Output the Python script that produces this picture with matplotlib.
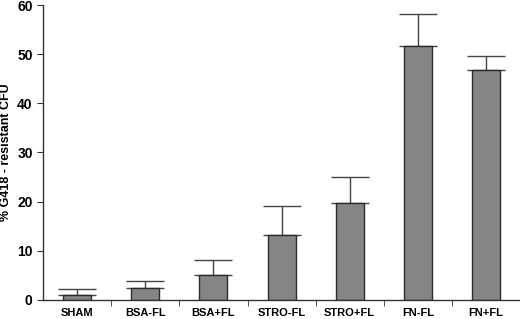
import matplotlib
matplotlib.use("Agg")
import matplotlib.pyplot as plt
import numpy as np

# groups and values
groups = ["SHAM", "BSA-FL", "BSA+FL", "STRO-FL", "STRO+FL", "FN-FL", "FN+FL"]
means = [1.0, 2.4, 5.1, 13.2, 19.7, 51.7, 46.7]
errs = [1.3, 1.5, 3.0, 5.9, 5.3, 6.4, 3.0]

plt.rcParams["font.family"] = ["Liberation Sans", "DejaVu Sans"]
plt.rcParams["font.weight"] = "bold"

fig = plt.figure(figsize=(5.2, 3.19), dpi=100)
ax = fig.add_axes([0.083, 0.06, 0.917, 0.924])

x = np.arange(len(groups))
ax.bar(x, means, width=0.41, color="#858585", edgecolor="#2a2a2a", linewidth=1.0, zorder=2)
ax.errorbar(x, means, yerr=[np.zeros(len(errs)), errs], fmt="none",
            ecolor="#444444", elinewidth=1.0, capsize=14, capthick=1.0, zorder=1)

ax.set_xlim(-0.5, len(groups) - 0.5)
ax.set_ylim(0, 60)
ax.set_yticks(range(0, 61, 10))
ax.set_xticks(x)
ax.set_xticklabels(groups, fontsize=8, fontweight="bold")
ax.set_xticks(np.arange(0.5, len(groups) - 0.5, 1), minor=True)
ax.tick_params(axis="x", which="major", length=0, pad=6)
ax.tick_params(axis="x", which="minor", length=4, direction="out", color="#333333")
ax.tick_params(axis="y", length=4, labelsize=10, color="#333333")
for lab in ax.get_yticklabels():
    lab.set_fontweight("bold")
ax.set_ylabel("% G418 - resistant CFU", fontsize=9, fontweight="bold", labelpad=4)

for s in ["top", "right"]:
    ax.spines[s].set_visible(False)
for s in ["left", "bottom"]:
    ax.spines[s].set_color("#333333")
    ax.spines[s].set_linewidth(1.0)

fig.savefig("out.png", dpi=100)
